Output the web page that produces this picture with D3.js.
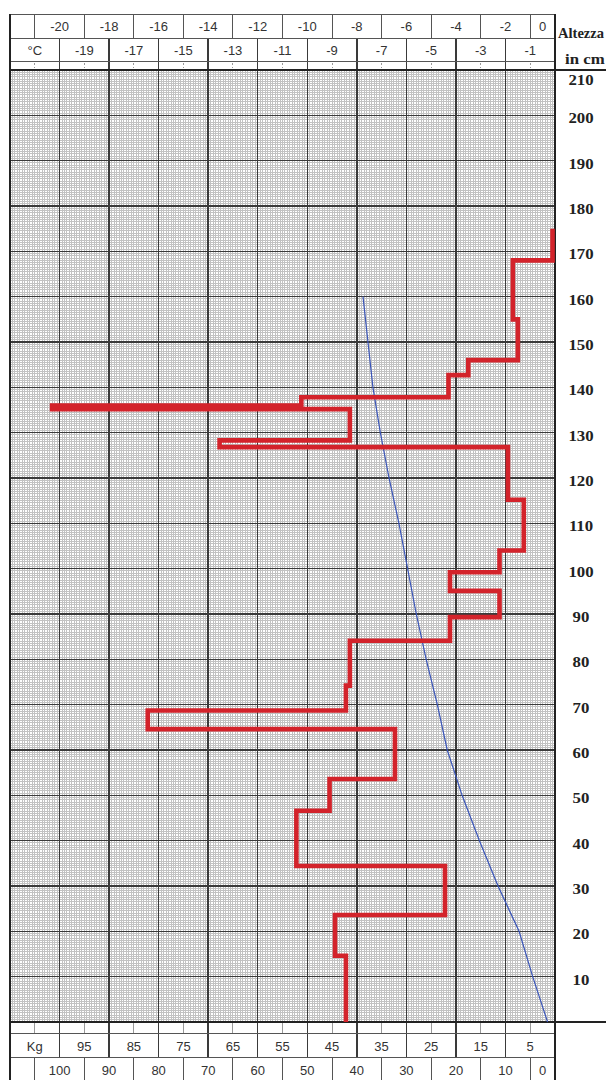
<!DOCTYPE html>
<html>
<head>
<meta charset="utf-8">
<script src="https://cdn.jsdelivr.net/npm/d3@7/dist/d3.min.js"></script>
<style>
	body { margin: 0; background: #fff; }
	svg { display: block; }
</style>
</head>
<body>
<svg id="mainSVG" width="606" height="1080"></svg>
<script>
// scale labels
var tempEven = [-20, -18, -16, -14, -12, -10, -8, -6, -4, -2, 0];
var tempOdd = [-19, -17, -15, -13, -11, -9, -7, -5, -3, -1];
var kgOdd = [95, 85, 75, 65, 55, 45, 35, 25, 15, 5];
var kgEven = [100, 90, 80, 70, 60, 50, 40, 30, 20, 10, 0];
var heightTicks = [10, 20, 30, 40, 50, 60, 70, 80, 90, 100, 110, 120, 130, 140, 150, 160, 170, 180, 190, 200, 210];

// snow temperature profile (cm, °C)
var tempHeights = [160, 150, 140, 130, 120, 110, 100, 90, 80, 70, 60, 50, 40, 30, 20, 10, 0];
var tempValues = [-7.75, -7.55, -7.35, -7.05, -6.7, -6.3, -5.95, -5.6, -5.2, -4.75, -4.35, -3.75, -3.05, -2.3, -1.45, -0.9, -0.3];

// ram resistance layers: top of each layer (cm) and hardness (kg)
var layerTops = [175, 168, 155, 146, 142.7, 137.8, 136, 135.2, 128.3, 126.8, 115.2, 104, 99.2, 95.1, 89.3, 84.1, 74.2, 68.7, 64.6, 53.6, 46.6, 34.4, 23.6, 14.6];
var hardness = [0.5, 8.5, 7.5, 17.5, 21.5, 51.2, 101.5, 41.4, 67.7, 9.5, 6.3, 11.2, 21.2, 11.2, 21.2, 41.4, 42.2, 82.2, 32.3, 45.5, 52.2, 22.2, 44.4, 42.2];

var f = {
	left: 10, right: 555, top: 70, bottom: 1022,
	head: 14, row1: 38, row2: 61,
	foot1: 1033, foot2: 1057, end: 1080
};

var $svg = d3.select('#mainSVG');

var x = d3.scaleLinear().domain([-22, 0]).range([f.left, f.right]);
var xKg = d3.scaleLinear().domain([110, 0]).range([f.left, f.right]);
var y = d3.scaleLinear().domain([0, 210]).range([f.bottom, f.top]);

var grid = $svg.append('g').attr('shape-rendering', 'crispEdges');

// fine graph paper
grid.selectAll('line.fv')
	.data(d3.range(1, 220).map(function(i) { return -22 + i / 10; }))
	.enter().append('line')
	.attr('x1', function(d) { return x(d); })
	.attr('x2', function(d) { return x(d); })
	.attr('y1', f.top).attr('y2', f.bottom)
	.attr('stroke', '#c2c2c2').attr('stroke-width', 1);

grid.selectAll('line.fh')
	.data(d3.range(1, 420).map(function(i) { return i / 2; }))
	.enter().append('line')
	.attr('x1', f.left).attr('x2', f.right)
	.attr('y1', function(d) { return y(d); })
	.attr('y2', function(d) { return y(d); })
	.attr('stroke', '#c2c2c2').attr('stroke-width', 1);

// major lines
grid.selectAll('line.mv')
	.data(tempEven.slice(0, -1))
	.enter().append('line')
	.attr('x1', function(d) { return x(d); })
	.attr('x2', function(d) { return x(d); })
	.attr('y1', f.row1).attr('y2', f.foot2)
	.attr('stroke', '#3a3a3a').attr('stroke-width', 1.4);

grid.selectAll('line.mh')
	.data(heightTicks.slice(0, -1))
	.enter().append('line')
	.attr('x1', f.left).attr('x2', f.right)
	.attr('y1', function(d) { return y(d); })
	.attr('y2', function(d) { return y(d); })
	.attr('stroke', '#3a3a3a').attr('stroke-width', 1.4);

// header and footer frame
var frame = $svg.append('g').attr('shape-rendering', 'crispEdges').attr('stroke', '#555');

[f.head, f.row1, f.row2, f.foot1, f.foot2].forEach(function(v) {
	frame.append('line').attr('x1', f.left).attr('x2', f.right)
		.attr('y1', v).attr('y2', v).attr('stroke-width', 1);
});

tempOdd.concat([-21]).forEach(function(d) {
	frame.append('line').attr('x1', x(d)).attr('x2', x(d))
		.attr('y1', f.head).attr('y2', f.row1).attr('stroke-width', 1);
	frame.append('line').attr('x1', x(d)).attr('x2', x(d))
		.attr('y1', f.row2 + 2).attr('y2', f.top - 2)
		.attr('stroke', '#999').attr('stroke-dasharray', '2,2');
	frame.append('line').attr('x1', x(d)).attr('x2', x(d))
		.attr('y1', f.bottom).attr('y2', f.foot1).attr('stroke', '#999');
	frame.append('line').attr('x1', x(d)).attr('x2', x(d))
		.attr('y1', f.foot2).attr('y2', f.end).attr('stroke-width', 1);
});

// thick outline
[[f.left, f.head, f.left, f.end], [f.right, f.head, f.right, f.end],
	[f.left, f.top, 606, f.top], [f.left, f.bottom, 606, f.bottom]].forEach(function(l) {
	frame.append('line').attr('x1', l[0]).attr('y1', l[1]).attr('x2', l[2]).attr('y2', l[3])
		.attr('stroke', '#222').attr('stroke-width', 2);
});

// labels
var sans = 'Liberation Sans, Arial, sans-serif';
var lab = $svg.append('g').attr('font-family', sans).attr('font-size', 13)
	.attr('fill', '#333').attr('text-anchor', 'middle');

lab.selectAll('text.t1').data(tempEven).enter().append('text')
	.attr('x', function(d) { return d === 0 ? (x(-1) + f.right) / 2 : x(d); })
	.attr('y', 31).text(function(d) { return d; });

lab.selectAll('text.t2').data(tempOdd).enter().append('text')
	.attr('x', function(d) { return x(d); })
	.attr('y', 55).text(function(d) { return d; });

lab.append('text').attr('x', (f.left + x(-20)) / 2).attr('y', 55).text('°C');

lab.selectAll('text.k1').data(kgOdd).enter().append('text')
	.attr('x', function(d) { return xKg(d); })
	.attr('y', 1051).text(function(d) { return d; });

lab.append('text').attr('x', (f.left + xKg(100)) / 2).attr('y', 1051).text('Kg');

lab.selectAll('text.k2').data(kgEven).enter().append('text')
	.attr('x', function(d) { return d === 0 ? (xKg(5) + f.right) / 2 : xKg(d); })
	.attr('y', 1075).text(function(d) { return d; });

var serif = 'Liberation Serif, Times New Roman, serif';
var hl = $svg.append('g').attr('font-family', serif).attr('font-weight', 'bold')
	.attr('font-size', 14).attr('fill', '#222');

hl.append('text').attr('transform', 'translate(558,38) scale(1.04,1)').text('Altezza');
hl.append('text').attr('transform', 'translate(565,64) scale(1.2,1)').text('in cm');

hl.selectAll('text.h').data(heightTicks).enter().append('text')
	.attr('text-anchor', 'middle')
	.attr('transform', function(d) {
		var yy = d === 210 ? y(d) + 15 : y(d) + 8;
		return 'translate(581,' + yy + ') scale(1.2,1)';
	})
	.text(function(d) { return d; });

// temperature line
var tempLine = d3.line()
	.x(function(d) { return x(d[1]); })
	.y(function(d) { return y(d[0]); });

$svg.append('path')
	.datum(d3.zip(tempHeights, tempValues))
	.attr('d', tempLine)
	.attr('fill', 'none')
	.attr('stroke', '#3a55b8')
	.attr('stroke-width', 1.2);

// ram profile as steps
var pts = [];
layerTops.forEach(function(t, i) {
	var b = i < layerTops.length - 1 ? layerTops[i + 1] : 0;
	pts.push([hardness[i], t]);
	pts.push([hardness[i], b]);
});

var ramLine = d3.line()
	.x(function(d) { return xKg(d[0]); })
	.y(function(d) { return y(d[1]); });

$svg.append('path')
	.datum(pts)
	.attr('d', ramLine)
	.attr('fill', 'none')
	.attr('stroke', '#d3232b')
	.attr('stroke-width', 4.6)
	.attr('stroke-linejoin', 'miter');
</script>
</body>
</html>
